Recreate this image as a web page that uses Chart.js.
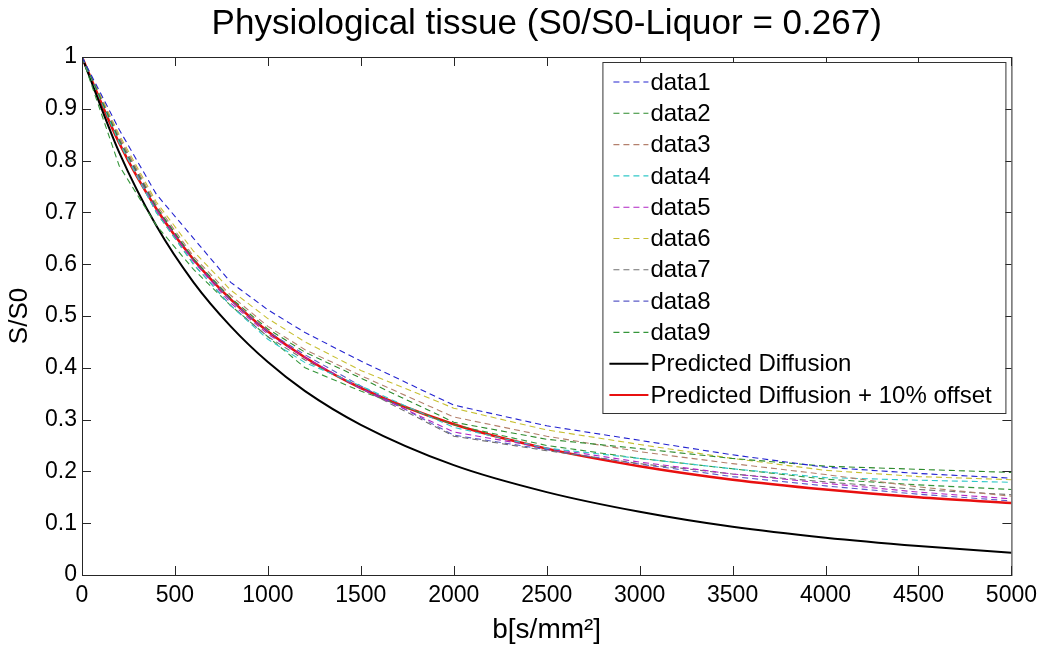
<!DOCTYPE html>
<html>
<head>
<meta charset="utf-8">
<script src="https://cdn.jsdelivr.net/npm/chart.js@4"></script>
<style>
html,body{margin:0;padding:0;background:#fff}
</style>
</head>
<body>
<canvas id="sigChart" width="1044" height="653"></canvas>
<script>
const bValues = [0, 200, 400, 600, 800, 1000, 1200, 1500, 2000, 2500, 3000, 3500, 4000, 4500, 5000];

const data1 = [1, 0.86, 0.735, 0.65, 0.565, 0.512, 0.468, 0.413, 0.328, 0.288, 0.26, 0.232, 0.208, 0.196, 0.187];
const data2 = [1, 0.84, 0.71, 0.61, 0.535, 0.475, 0.43, 0.38, 0.295, 0.262, 0.244, 0.225, 0.21, 0.204, 0.198];
const data3 = [1, 0.845, 0.715, 0.615, 0.54, 0.48, 0.435, 0.385, 0.305, 0.268, 0.238, 0.215, 0.194, 0.17, 0.152];
const data4 = [1, 0.835, 0.70, 0.60, 0.52, 0.455, 0.41, 0.365, 0.285, 0.245, 0.225, 0.205, 0.188, 0.183, 0.179];
const data5 = [1, 0.84, 0.705, 0.605, 0.525, 0.465, 0.42, 0.36, 0.276, 0.245, 0.218, 0.195, 0.177, 0.16, 0.147];
const data6 = [1, 0.85, 0.72, 0.625, 0.55, 0.495, 0.45, 0.395, 0.322, 0.28, 0.252, 0.225, 0.202, 0.19, 0.184];
const data7 = [1, 0.835, 0.70, 0.60, 0.52, 0.46, 0.415, 0.36, 0.268, 0.24, 0.215, 0.195, 0.18, 0.165, 0.155];
const data8 = [1, 0.845, 0.71, 0.61, 0.53, 0.47, 0.425, 0.365, 0.27, 0.242, 0.214, 0.19, 0.172, 0.156, 0.143];
const data9 = [1, 0.79, 0.675, 0.59, 0.52, 0.46, 0.40, 0.355, 0.29, 0.25, 0.225, 0.205, 0.185, 0.174, 0.165];
const predicted = [1, 0.816, 0.674, 0.565, 0.48, 0.411, 0.355, 0.29, 0.212, 0.16, 0.122, 0.093, 0.072, 0.056, 0.043];
const predictedOffset = [1, 0.834, 0.707, 0.609, 0.532, 0.47, 0.42, 0.361, 0.291, 0.244, 0.21, 0.184, 0.165, 0.15, 0.139];

const measured = [data1, data2, data3, data4, data5, data6, data7, data8, data9];
const measuredColors = ['#2424d0', '#2c8a2c', '#b4806c', '#30c8c8', '#b024c4', '#c8c034', '#707070', '#5c5cc8', '#34963a'];
const xTicks = [0, 500, 1000, 1500, 2000, 2500, 3000, 3500, 4000, 4500, 5000];
const yTicks = [0, 0.1, 0.2, 0.3, 0.4, 0.5, 0.6, 0.7, 0.8, 0.9, 1];

const FONT = 'Liberation Sans, Arial, Helvetica, sans-serif';

function toPoints(arr){ return bValues.map((b, i) => ({ x: b, y: arr[i] })); }

const datasets = measured.map((arr, i) => ({
	label: 'data' + (i + 1),
	data: toPoints(arr),
	borderColor: measuredColors[i],
	borderWidth: 1.1,
	borderDash: [6, 4],
	pointRadius: 0,
	tension: 0,
	fill: false
}));
datasets.push({
	label: 'Predicted Diffusion',
	data: toPoints(predicted),
	borderColor: '#000000',
	borderWidth: 2,
	pointRadius: 0,
	cubicInterpolationMode: 'monotone',
	fill: false
});
datasets.push({
	label: 'Predicted Diffusion + 10% offset',
	data: toPoints(predictedOffset),
	borderColor: '#e81010',
	borderWidth: 2.5,
	pointRadius: 0,
	cubicInterpolationMode: 'monotone',
	fill: false
});

// MATLAB-style box with inward ticks on all four sides
const frameTicks = {
	id: 'frameTicks',
	afterDatasetsDraw(chart){
		const {ctx, chartArea: a, scales} = chart;
		ctx.save();
		ctx.strokeStyle = '#262626';
		ctx.lineWidth = 1;
		ctx.setLineDash([]);
		ctx.strokeRect(a.left + 0.5, a.top + 0.5, a.right - a.left, a.bottom - a.top);
		ctx.beginPath();
		xTicks.forEach(v => {
			const px = Math.round(scales.x.getPixelForValue(v)) + 0.5;
			ctx.moveTo(px, a.bottom); ctx.lineTo(px, a.bottom - 9);
			ctx.moveTo(px, a.top); ctx.lineTo(px, a.top + 9);
		});
		yTicks.forEach(v => {
			const py = Math.round(scales.y.getPixelForValue(v)) + 0.5;
			ctx.moveTo(a.left, py); ctx.lineTo(a.left + 9, py);
			ctx.moveTo(a.right, py); ctx.lineTo(a.right - 9, py);
		});
		ctx.stroke();
		ctx.restore();
	}
};

// legend box inside the axes, top right
const insideLegend = {
	id: 'insideLegend',
	afterDraw(chart){
		const ctx = chart.ctx;
		const a = chart.chartArea;
		const boxW = 403, boxH = 351;
		const bx = a.right - 6 - boxW, by = a.top + 5;
		ctx.save();
		ctx.fillStyle = '#ffffff';
		ctx.fillRect(bx, by, boxW, boxH);
		ctx.strokeStyle = '#333333';
		ctx.lineWidth = 1;
		ctx.strokeRect(bx + 0.5, by + 0.5, boxW, boxH);
		ctx.font = '24px ' + FONT;
		ctx.textBaseline = 'middle';
		ctx.textAlign = 'left';
		chart.data.datasets.forEach((ds, i) => {
			const y = by + 20 + i * 31.3;
			ctx.beginPath();
			ctx.strokeStyle = ds.borderColor;
			ctx.lineWidth = ds.borderDash ? 1.1 : 2;
			ctx.setLineDash(ds.borderDash || []);
			ctx.moveTo(bx + (ds.borderDash ? 11 : 7), y);
			ctx.lineTo(bx + 46, y);
			ctx.stroke();
			ctx.setLineDash([]);
			ctx.fillStyle = '#000000';
			ctx.fillText(ds.label, bx + 48, y + 1);
		});
		ctx.restore();
	}
};

new Chart(document.getElementById('sigChart').getContext('2d'), {
	type: 'line',
	data: { datasets: datasets },
	options: {
		responsive: false,
		animation: false,
		layout: { padding: { left: 0, right: 31, top: 0, bottom: 0 } },
		plugins: {
			legend: { display: false },
			tooltip: { enabled: false },
			title: {
				display: true,
				fullSize: false,
				text: 'Physiological tissue (S0/S0-Liquor = 0.267)',
				color: '#000000',
				font: { family: FONT, size: 35, weight: 'normal' },
				padding: { top: 3, bottom: 12 }
			}
		},
		scales: {
			x: {
				type: 'linear',
				min: 0, max: 5000,
				afterBuildTicks: s => { s.ticks = xTicks.map(v => ({ value: v })); },
				afterFit: s => { s.height = 78; },
				grid: { display: false, drawTicks: false },
				border: { display: false },
				ticks: {
					color: '#000000',
					padding: 7,
					maxRotation: 0,
					font: { family: FONT, size: 23 },
					callback: v => String(v)
				},
				title: {
					display: true,
					text: 'b[s/mm²]',
					color: '#000000',
					font: { family: FONT, size: 28 },
					padding: { top: 0, bottom: 6 }
				}
			},
			y: {
				type: 'linear',
				min: 0, max: 1,
				afterBuildTicks: s => { s.ticks = yTicks.map(v => ({ value: v })); },
				afterFit: s => { s.width = 82; },
				grid: { display: false, drawTicks: false },
				border: { display: false },
				ticks: {
					color: '#000000',
					padding: 5,
					font: { family: FONT, size: 23 },
					callback: v => String(Math.round(v * 10) / 10)
				},
				title: {
					display: true,
					text: 'S/S0',
					color: '#000000',
					font: { family: FONT, size: 26 },
					padding: { top: 4, bottom: 0 }
				}
			}
		}
	},
	plugins: [frameTicks, insideLegend]
});
</script>
</body>
</html>
